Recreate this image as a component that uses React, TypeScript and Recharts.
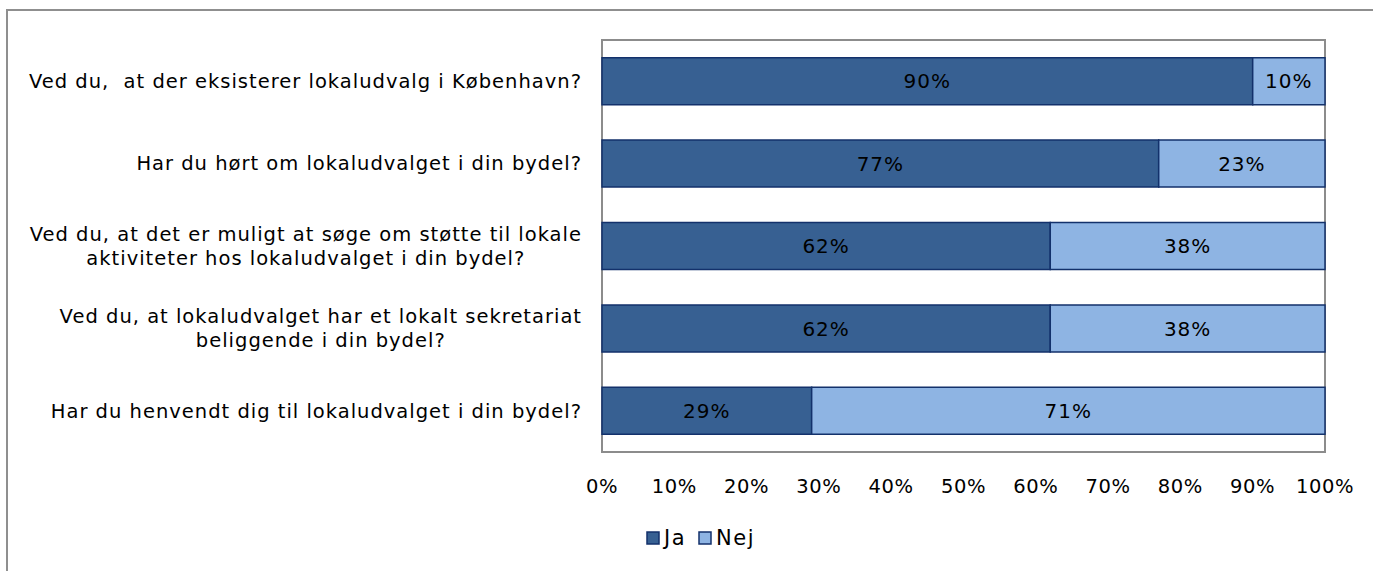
import React from 'react';
import { BarChart, Bar, XAxis, YAxis, Legend, LabelList, ReferenceArea } from 'recharts';

const categories = [
  'Ved du,  at der eksisterer lokaludvalg i København?',
  'Har du hørt om lokaludvalget i din bydel?',
  'Ved du, at det er muligt at søge om støtte til lokale\naktiviteter hos lokaludvalget i din bydel?',
  'Ved du, at lokaludvalget har et lokalt sekretariat\nbeliggende i din bydel?',
  'Har du henvendt dig til lokaludvalget i din bydel?',
];
const jaValues = [90, 77, 62, 62, 29];
const nejValues = [10, 23, 38, 38, 71];
const xTicks = [0, 10, 20, 30, 40, 50, 60, 70, 80, 90, 100];

const data = categories.map((c, i) => ({ name: c, Ja: jaValues[i], Nej: nejValues[i] }));

const FONT = '"DejaVu Sans", Verdana, sans-serif';
const DARK = '#376092';
const LIGHT = '#8EB4E3';
const EDGE = '#13316B';
const LABEL_SIZE = 19.5;
const LABEL_SPACING = 1;

let ctx: CanvasRenderingContext2D | null = null;
function measure(text: string, size: number, spacing: number): number {
  if (!ctx) {
    const c = document.createElement('canvas');
    ctx = c.getContext('2d');
  }
  if (!ctx) return text.length * (size * 0.55 + spacing);
  ctx.font = `${size}px "DejaVu Sans"`;
  return ctx.measureText(text).width + spacing * (text.length - 1);
}

const YTick = (props: any) => {
  const { x, y, payload } = props;
  const lines: string[] = String(payload.value).split('\n');
  const lh = 24;
  const w = Math.max(...lines.map((l) => measure(l, LABEL_SIZE, LABEL_SPACING)));
  const startY = y - ((lines.length - 1) * lh) / 2;
  return (
    <g>
      {lines.map((l, i) => {
        const lw = measure(l, LABEL_SIZE, LABEL_SPACING);
        const lx = x - w / 2 - lw / 2;
        return (
          <text
            key={i}
            x={lx}
            y={startY + i * lh}
            dy="0.35em"
            textAnchor="start"
            fontFamily={FONT}
            fontSize={LABEL_SIZE}
            letterSpacing={LABEL_SPACING}
            fill="#000"
            style={{ whiteSpace: 'pre' }}
          >
            {l}
          </text>
        );
      })}
    </g>
  );
};

const LegendContent = (props: any) => {
  const items = props.payload || [];
  return (
    <div style={{ display: 'flex', alignItems: 'center', fontFamily: FONT, fontSize: 21, letterSpacing: 1.5, color: '#000' }}>
      {items.map((it: any, i: number) => (
        <div key={i} style={{ display: 'flex', alignItems: 'center', marginRight: 12 }}>
          <svg width={14} height={14} style={{ marginRight: 4 }}>
            <rect x={1} y={1} width={12} height={12} fill={it.color} stroke={EDGE} strokeWidth={1.5} />
          </svg>
          <span>{it.value}</span>
        </div>
      ))}
    </div>
  );
};

export default function App() {
  return (
    <div style={{ position: 'absolute', left: 0, top: 0, width: 1373, height: 571, overflow: 'hidden', background: '#fff' }}>
      <div
        style={{
          position: 'absolute',
          left: 6,
          top: 9,
          width: 1420,
          height: 620,
          borderLeft: '2px solid #8f8f8f',
          borderTop: '2px solid #8f8f8f',
        }}
      />
      <div style={{ position: 'absolute', left: 0, top: 0 }}>
        <BarChart
          width={1373}
          height={571}
          data={data}
          layout="vertical"
          margin={{ top: 40, right: 48, bottom: 69, left: 0 }}
          barCategoryGap="21.5%"
        >
          <ReferenceArea x1={0} x2={100} fill="none" stroke="#8c8c8c" strokeWidth={2} ifOverflow="visible" />
          <XAxis
            type="number"
            domain={[0, 100]}
            ticks={xTicks}
            tickFormatter={(v: number) => `${v}%`}
            axisLine={false}
            tickLine={false}
            tickSize={0}
            tickMargin={27}
            height={50}
            tick={{ fontFamily: FONT, fontSize: 19.5, fill: '#000', letterSpacing: 0.6 }}
            interval={0}
          />
          <YAxis
            type="category"
            dataKey="name"
            width={602}
            axisLine={false}
            tickLine={false}
            tickSize={0}
            tickMargin={21}
            tick={<YTick />}
            interval={0}
          />
          <Legend
            layout="horizontal"
            verticalAlign="middle"
            align="center"
            content={<LegendContent />}
            wrapperStyle={{ position: 'absolute', left: 646, top: 526, width: 'auto' }}
          />
          <Bar dataKey="Ja" stackId="a" fill={DARK} stroke={EDGE} strokeWidth={1.5} isAnimationActive={false}>
            <LabelList dataKey="Ja" position="center" formatter={(v: any) => `${v}%`} fill="#000" fontSize={20} letterSpacing={1} fontFamily={FONT} />
          </Bar>
          <Bar dataKey="Nej" stackId="a" fill={LIGHT} stroke={EDGE} strokeWidth={1.5} isAnimationActive={false}>
            <LabelList dataKey="Nej" position="center" formatter={(v: any) => `${v}%`} fill="#000" fontSize={20} letterSpacing={1} fontFamily={FONT} />
          </Bar>
        </BarChart>
      </div>
    </div>
  );
}
